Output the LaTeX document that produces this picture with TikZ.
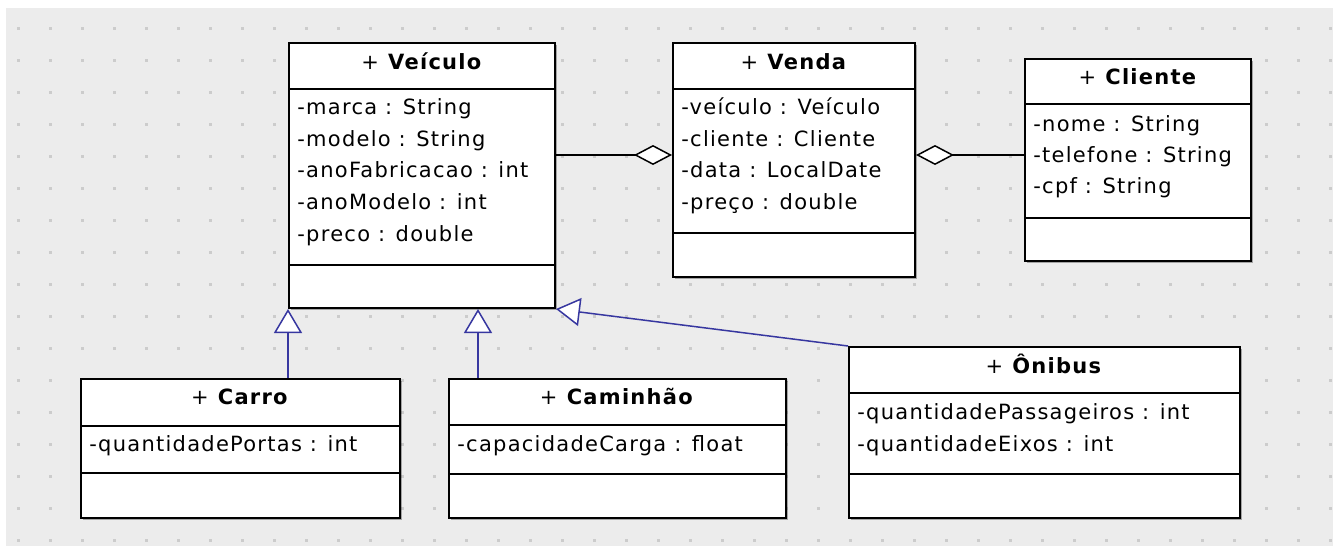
\documentclass[tikz,border=0pt]{standalone}
\usepackage{fontspec}
\setmainfont{DejaVu Sans}[LetterSpace=6.0]
\usetikzlibrary{
    arrows.meta,
    calc,
    fit,
    positioning,
    shadows
}
\definecolor{umlblue}{RGB}{55,55,160}
\definecolor{canvas}{RGB}{236,236,236}
\definecolor{griddot}{RGB}{204,204,204}

\begin{document}
\begin{tikzpicture}[x=0.5pt, y=-0.5pt,
    font=\fontsize{10.5}{13}\selectfont,
    classbox/.style={draw, line width=1pt, fill=white, inner sep=0pt,
        drop shadow={shadow xshift=1pt, shadow yshift=-1pt, opacity=0.3, fill=black}},
    classname/.style={anchor=base, inner sep=0pt},
    attr/.style={anchor=base west, inner sep=0pt},
    aggr/.style={draw=black, line width=0.75pt, -{Diamond[fill=white, length=19pt, width=10pt]}},
    gen/.style={draw=umlblue, line width=0.75pt, -{Triangle[fill=white, length=12pt, width=14pt]}}
]
                        % canvas and grid
                        \path[use as bounding box, fill=white] (0,0) rectangle (1341,546);
                        \fill[canvas] (6,8) rectangle (1333,546);
                        \foreach \i in {0,...,41}
                            \foreach \j in {0,...,16}
                                \fill[griddot] ({18+32*\i-1.5},{28+32*\j-1.5}) rectangle ++(3,3);
                        % classes
                        \node[classbox, fit={(289,43) (555,308)}] (veiculo) {};
                        \node[classbox, fit={(673,43) (915,277)}] (venda) {};
                        \node[classbox, fit={(1025,59) (1251,261)}] (cliente) {};
                        \node[classbox, fit={(81,379) (400,518)}] (carro) {};
                        \node[classbox, fit={(449,379) (786,518)}] (caminhao) {};
                        \node[classbox, fit={(849,347) (1240,518)}] (onibus) {};
                        \draw[line width=1pt]
                        (289, 89) -- (555, 89)
                        (289, 265) -- (555, 265)
                        (673, 89) -- (915, 89)
                        (673, 233) -- (915, 233)
                        (1025, 104) -- (1251, 104)
                        (1025, 218) -- (1251, 218)
                        (81, 426) -- (400, 426)
                        (81, 473) -- (400, 473)
                        (449, 425) -- (786, 425)
                        (449, 474) -- (786, 474)
                        (849, 393) -- (1240, 393)
                        (849, 474) -- (1240, 474);
                        \node[classname] (veiculoT) at (422, 69) {+ \textbf{Veículo}};
                        \node[attr] (veiculoA1) at (297, 114) {-marca : String};
                        \node[attr] (veiculoA2) at (297, 146) {-modelo : String};
                        \node[attr] (veiculoA3) at (297, 177) {-anoFabricacao : int};
                        \node[attr] (veiculoA4) at (297, 209) {-anoModelo : int};
                        \node[attr] (veiculoA5) at (297, 241) {-preco : double};
                        \node[classname] (vendaT) at (794, 69) {+ \textbf{Venda}};
                        \node[attr] (vendaA1) at (681, 114) {-veículo : Veículo};
                        \node[attr] (vendaA2) at (681, 146) {-cliente : Cliente};
                        \node[attr] (vendaA3) at (681, 177) {-data : LocalDate};
                        \node[attr] (vendaA4) at (681, 209) {-preço : double};
                        \node[classname] (clienteT) at (1138, 84) {+ \textbf{Cliente}};
                        \node[attr] (clienteA1) at (1033, 131) {-nome : String};
                        \node[attr] (clienteA2) at (1033, 162) {-telefone : String};
                        \node[attr] (clienteA3) at (1033, 193) {-cpf : String};
                        \node[classname] (carroT) at (240, 404) {+ \textbf{Carro}};
                        \node[attr] (carroA1) at (89, 451) {-quantidadePortas : int};
                        \node[classname] (caminhaoT) at (617, 404) {+ \textbf{Caminhão}};
                        \node[attr] (caminhaoA1) at (457, 451) {-capacidadeCarga : float};
                        \node[classname] (onibusT) at (1044, 373) {+ \textbf{Ônibus}};
                        \node[attr] (onibusA1) at (857, 419) {-quantidadePassageiros : int};
                        \node[attr] (onibusA2) at (857, 451) {-quantidadeEixos : int};
                        % associations
                        \coordinate (vendaL) at ($(venda.west)+(0,-5)$);
                        \coordinate (vendaR) at ($(venda.east)+(0,-5)$);
                        \draw[aggr] (veiculo.east |- vendaL) -- (vendaL);
                        \draw[aggr] (cliente.west |- vendaR) -- (vendaR);
                        % generalizations
                        \coordinate (caminhaoTop) at ($(caminhao.north west)+(30,0)$);
                        \draw[gen] (carro.north -| veiculo.south west) -- (veiculo.south west);
                        \draw[gen] (caminhaoTop) -- (caminhaoTop |- veiculo.south);
                        \draw[gen] (onibus.north west) -- (veiculo.south east);
                    \end{tikzpicture}
\end{document}
